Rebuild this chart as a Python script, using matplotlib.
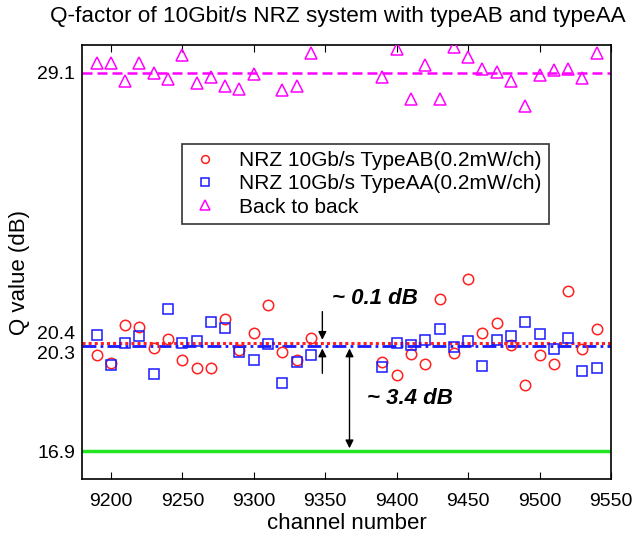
import numpy as np
import matplotlib
matplotlib.use("Agg")
import matplotlib.pyplot as plt

plt.rcParams['font.family'] = ['Liberation Sans', 'DejaVu Sans']

# ---- data ----
ch_all = [9190, 9200, 9210, 9220, 9230, 9240, 9250, 9260, 9270, 9280, 9290, 9300,
          9310, 9320, 9330, 9340,
          9390, 9400, 9410, 9420, 9430, 9440, 9450, 9460, 9470, 9480, 9490, 9500,
          9510, 9520, 9530, 9540]

q_typeAB = [20.00, 19.74, 20.96, 20.91, 20.22, 20.53, 19.84, 19.57, 19.59, 21.16, 20.16, 20.72,
            21.61, 20.11, 19.83, 20.56,
            19.78, 19.36, 20.03, 19.70, 21.80, 20.05, 22.45, 20.72, 21.02, 20.32, 19.03, 19.99,
            19.70, 22.07, 20.19, 20.83]

q_typeAA = [20.64, 19.68, 20.40, 20.61, 19.38, 21.48, 20.40, 20.46, 21.08, 20.88, 20.10, 19.84,
            20.37, 19.09, 19.76, 20.00,
            19.62, 20.40, 20.32, 20.48, 20.85, 20.26, 20.46, 19.65, 20.48, 20.60, 21.08, 20.69,
            20.19, 20.54, 19.49, 19.59]

ch_b2b = [9190, 9200, 9210, 9220, 9230, 9240, 9250, 9260, 9270, 9280, 9290, 9300,
          9320, 9330, 9340,
          9390, 9400, 9410, 9420, 9430, 9440, 9450, 9460, 9470, 9480, 9490, 9500,
          9510, 9520, 9530, 9540]
q_b2b = [29.43, 29.43, 28.84, 29.43, 29.11, 28.92, 29.67, 28.79, 28.97, 28.67, 28.59, 29.08,
         28.56, 28.67, 29.73,
         28.97, 29.86, 28.27, 29.37, 28.27, 29.95, 29.62, 29.22, 29.13, 28.83, 28.02, 29.02,
         29.19, 29.24, 28.94, 29.73]

mean_b2b = 29.1
mean_AB = 20.4
mean_AA = 20.3
q_limit = 16.9

ytick_vals = [16.9, 20.3, 20.4, 29.1]
ytick_labels = ['16.9', '20.3', '20.4', '29.1']
xtick_vals = [9200, 9250, 9300, 9350, 9400, 9450, 9500, 9550]

# ---- figure ----
fig = plt.figure(figsize=(6.34, 5.43), dpi=100)
ax = fig.add_axes([0.1298, 0.1179, 0.8339, 0.7991])

ax.axhline(mean_b2b, color='#ff00ff', ls=(0, (4, 2)), lw=1.8, zorder=2)
ax.axhline(mean_AB, color='#ff2020', ls=(0, (1, 1)), lw=2.2, zorder=2)
ax.axhline(mean_AA, color='#1a1aff', ls=(0, (5, 1.5, 1, 1.5)), lw=2.0, zorder=2)
ax.axhline(q_limit, color='#22e622', ls='-', lw=2.5, zorder=2)

ax.plot(ch_all, q_typeAB, ls='none', marker='o', ms=7.5, mfc='none', mec='#ff2020',
        mew=1.1, label='NRZ 10Gb/s TypeAB(0.2mW/ch)', zorder=3)
ax.plot(ch_all, q_typeAA, ls='none', marker='s', ms=7.5, mfc='none', mec='#1a1aff',
        mew=1.1, label='NRZ 10Gb/s TypeAA(0.2mW/ch)', zorder=3)
ax.plot(ch_b2b, q_b2b, ls='none', marker='^', ms=9, mfc='none', mec='#ff00ff',
        mew=1.1, label='Back to back', zorder=3)

ax.set_xlim(9180, 9550)
ax.set_ylim(16, 30)

ax.set_xticks(xtick_vals)
ax.set_xticklabels([str(v) for v in xtick_vals], fontsize=14)
ax.set_yticks(ytick_vals)
ax.set_yticklabels(ytick_labels, fontsize=14)
ax.tick_params(axis='x', direction='in', length=5, top=True, pad=10)
ax.tick_params(axis='y', length=0, pad=5)
for lab in ax.get_yticklabels():
    if lab.get_text() == '20.4':
        lab.set_va('bottom')
    elif lab.get_text() == '20.3':
        lab.set_va('top')

for sp in ax.spines.values():
    sp.set_linewidth(1.2)

ax.set_xlabel('channel number', fontsize=16, labelpad=2)
ax.set_ylabel('Q value (dB)', fontsize=16, va='center')
ax.yaxis.set_label_coords(-0.118, 0.477)
fig.text(0.533, 0.969, 'Q-factor of 10Gbit/s NRZ system with typeAB and typeAA',
         fontsize=16.2, ha='center', va='center')

leg = ax.legend(loc='upper left', bbox_to_anchor=(0.1886, 0.772), fontsize=15,
                frameon=True, fancybox=False, edgecolor='black', markerscale=0.75,
                handlelength=1.5, handletextpad=0.9, borderpad=0.35, labelspacing=0.2,
                borderaxespad=0)
leg.get_frame().set_linewidth(1.2)

# annotations
arrow_kw = dict(arrowstyle='-|>', color='black', lw=1.0, mutation_scale=12)
ax.annotate('', xy=(9348, mean_AB), xytext=(9348, 21.49), arrowprops=arrow_kw)
ax.annotate('', xy=(9348, mean_AA), xytext=(9348, 19.32), arrowprops=arrow_kw)
ax.text(9355, 21.81, '~ 0.1 dB', fontsize=16, fontweight='bold', style='italic',
        ha='left', va='center')

ax.annotate('', xy=(9367, q_limit), xytext=(9367, mean_AA),
            arrowprops=dict(arrowstyle='<|-|>', color='black', lw=1.0, mutation_scale=12))
ax.text(9379, 18.61, '~ 3.4 dB', fontsize=16, fontweight='bold', style='italic',
        ha='left', va='center')

fig.savefig('out.png', dpi=100)
